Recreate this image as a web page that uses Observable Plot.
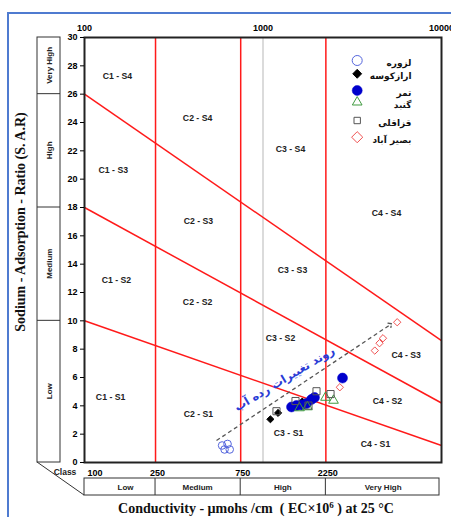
<!DOCTYPE html>
<html><head><meta charset="utf-8">
<script src="https://cdn.jsdelivr.net/npm/d3@7"></script>
<script src="https://cdn.jsdelivr.net/npm/@observablehq/plot@0.6"></script>
<style>html,body{margin:0;padding:0;background:#fff;overflow:hidden}svg{display:block}</style>
</head><body><div id="chart"></div>
<script>
// ---------- data ----------
const classBreaksEC = [250, 750, 2250];
const classBoundsEC = [100, 250, 750, 2250, 10000];
const salinityClassNames = ["Low", "Medium", "High", "Very High"];
const sodiumBoundsSAR = [0, 10, 18, 26, 30];
const sodiumClassNames = ["Low", "Medium", "High", "Very High"];
const boundaryStartEC = 100, boundaryEndEC = 10000;
const boundaryStartSAR = [10, 18, 26];
const boundaryEndSAR = [1.2, 4.2, 8.6];
const topTickLabels = [100, 1000, 10000];
const bottomTickLabels = [250, 750, 2250];
const bottomFirstLabel = [100];
const yTicks = [0, 2, 4, 6, 8, 10, 12, 14, 16, 18, 20, 22, 24, 26, 28, 30];

const regionNames = ["C1 - S4","C2 - S4","C3 - S4","C4 - S4","C1 - S3","C2 - S3","C3 - S3","C4 - S3",
                     "C1 - S2","C2 - S2","C3 - S2","C4 - S2","C1 - S1","C2 - S1","C3 - S1","C4 - S1"];
const regionEC  = [153, 430, 1426, 4920, 145, 435, 1463, 6343, 151, 430, 1253, 4980, 140, 435, 1390, 4267];
const regionSAR = [27.3, 24.3, 22.1, 17.6, 20.6, 17.0, 13.55, 7.6, 12.9, 11.3, 8.8, 4.33, 4.6, 3.39, 2.07, 1.27];

const seriesNames = ["لزوره", "ارازکوسه", "تمر", "گنبد", "قزاقلی", "بصیر آباد"];
const lazvarehEC = [590, 633, 651, 609];
const lazvarehSAR = [1.2, 1.31, 0.92, 0.92];
const arazkoosehEC = [1100, 1215, 1660];
const arazkoosehSAR = [3.05, 3.5, 4.3];
const tamarEC = [1445, 1541, 1643, 1752, 1869, 1943, 2789];
const tamarSAR = [3.92, 4.02, 4.06, 4.16, 4.45, 4.59, 5.96];
const gonbadEC = [1601, 1775, 2240, 2483];
const gonbadSAR = [3.85, 3.92, 4.59, 4.38];
const ghazaghliEC = [1190, 1521, 1798, 1994, 2390];
const ghazaghliSAR = [3.62, 4.34, 4.02, 5.03, 4.83];
const basirabadEC = [2693, 4229, 4495, 4700, 5647];
const basirabadSAR = [5.31, 7.9, 8.42, 8.77, 9.9];

const trendLabel = "روند تغییرات رده آب";
const trendFrom = {ec: 549, sar: 1.55};
const trendTo = {ec: 5180, sar: 9.74};
const trendLabelAt = {ec: 1319, sar: 5.9};

// ---------- build ----------
const seriesEC = [lazvarehEC, arazkoosehEC, tamarEC, gonbadEC, ghazaghliEC, basirabadEC];
const seriesSAR = [lazvarehSAR, arazkoosehSAR, tamarSAR, gonbadSAR, ghazaghliSAR, basirabadSAR];
const styles = [
  {symbol: "circle", r: 3.8, fill: "none", stroke: "#5566dd", strokeWidth: 1, lr: 5},
  {symbol: "diamond2", r: 3.2, fill: "#000", stroke: "#000", strokeWidth: 1, lr: 4},
  {symbol: "circle", r: 5, fill: "#0000cc", stroke: "#0000cc", strokeWidth: 0.5, lr: 5},
  {symbol: "triangle", r: 3.6, fill: "none", stroke: "#3f9a3f", strokeWidth: 1, lr: 3.6},
  {symbol: "square", r: 4, fill: "none", stroke: "#555", strokeWidth: 1, lr: 3.6},
  {symbol: "diamond2", r: 3.3, fill: "none", stroke: "#f05050", strokeWidth: 1, lr: 5}
];
const legendDy = [23, 36.3, 53, 64.7, 83, 99.7];

const rows = seriesNames.map((name, i) => seriesEC[i].map((ec, j) => ({series: name, ec, sar: seriesSAR[i][j]})));
const boundaries = boundaryStartSAR.map((s, i) => ({x1: boundaryStartEC, x2: boundaryEndEC, y1: s, y2: boundaryEndSAR[i]}));
const regions = regionNames.map((n, i) => ({name: n, ec: regionEC[i], sar: regionSAR[i]}));

const bold = "bold";
const marks = [
  Plot.ruleX([1000], {stroke: "#c8c8c8", strokeWidth: 1.3}),
  Plot.ruleX(classBreaksEC, {stroke: "#ff1a1a", strokeWidth: 1.5}),
  Plot.link(boundaries, {x1: "x1", x2: "x2", y1: "y1", y2: "y2", stroke: "#ff1a1a", strokeWidth: 1.5}),
  Plot.frame({stroke: "#222", strokeWidth: 2}),
  Plot.axisY({ticks: yTicks, tickSize: 4, tickPadding: 3, fontWeight: bold, fontSize: 9, label: null, tickFormat: d => String(d)}),
  Plot.text(topTickLabels, {x: d => d, y: 30, dy: -9, text: d => String(d), fontWeight: bold, fontSize: 9}),
  Plot.text(bottomTickLabels, {x: d => d, y: 0, dy: 11, text: d => String(d), fontWeight: bold, fontSize: 9, dx: 2}),
  Plot.text(bottomFirstLabel, {x: d => d, y: 0, dy: 11, dx: 3, textAnchor: "start", text: d => String(d), fontWeight: bold, fontSize: 9}),
  Plot.text(regions, {x: "ec", y: "sar", text: "name", fontWeight: bold, fontSize: 8.7, fill: "#222"}),
  Plot.link([trendFrom], {x1: d => d.ec, y1: d => d.sar, x2: () => trendTo.ec, y2: () => trendTo.sar,
    stroke: "#555", strokeWidth: 1.3, strokeDasharray: "4,3", markerEnd: "arrow"}),
  Plot.text([trendLabel], {x: () => trendLabelAt.ec, y: () => trendLabelAt.sar, text: d => d, rotate: -31,
    fill: "#2a3cd6", fontWeight: bold, fontSize: 11.5, fontFamily: "DejaVu Sans, sans-serif"})
];
rows.forEach((data, i) => {
  const s = styles[i];
  marks.push(Plot.dot(data, {x: "ec", y: "sar", symbol: () => s.symbol, r: s.r, fill: s.fill, stroke: s.stroke, strokeWidth: s.strokeWidth}));
});
seriesNames.forEach((name, i) => {
  const s = styles[i];
  marks.push(Plot.dot([name], {frameAnchor: "top-left", dx: 272.7, dy: legendDy[i], symbol: () => s.symbol, r: s.lr, fill: s.fill, stroke: s.stroke, strokeWidth: s.strokeWidth}));
  marks.push(Plot.text([name], {frameAnchor: "top-left", dx: 327, dy: legendDy[i] - 1, text: d => d, textAnchor: "end",
    fontWeight: bold, fontSize: 9, fill: "#111", fontFamily: "DejaVu Sans, sans-serif"}));
});

const chart = Plot.plot({
  width: 451, height: 517,
  marginLeft: 84, marginRight: 10, marginTop: 37, marginBottom: 55,
  x: {type: "log", domain: [100, 10000], axis: null},
  y: {domain: [0, 30]},
  style: {fontFamily: "Liberation Sans, Arial, sans-serif", background: "white", overflow: "hidden"},
  symbol: {type: "identity"},
  marks
});
document.getElementById("chart").appendChild(chart);

// ---------- decorations using the plot's scales ----------
const X = v => chart.scale("x").apply(v);
const Y = v => chart.scale("y").apply(v);
const svg = d3.select(chart);
const g = svg.append("g").attr("fill", "none").attr("stroke", "#333").attr("stroke-width", 1);
const bx0 = 37, bx1 = 60;
g.append("rect").attr("x", bx0).attr("y", Y(30)).attr("width", bx1 - bx0).attr("height", Y(0) - Y(30));
sodiumBoundsSAR.slice(1, -1).forEach(v => g.append("line").attr("x1", bx0).attr("x2", bx1).attr("y1", Y(v)).attr("y2", Y(v)));
const by0 = Y(0) + 16, by1 = Y(0) + 33;
g.append("rect").attr("x", X(100)).attr("y", by0).attr("width", X(10000) - X(100) - 2).attr("height", by1 - by0);
classBreaksEC.forEach(v => g.append("line").attr("x1", X(v)).attr("x2", X(v)).attr("y1", by0).attr("y2", by1));
g.append("line").attr("x1", bx0).attr("y1", Y(0)).attr("x2", X(100)).attr("y2", by1);

const tg = svg.append("g").attr("font-family", "Liberation Sans, Arial, sans-serif").attr("font-weight", "bold").attr("fill", "#222");
sodiumClassNames.forEach((n, i) => {
  const cy = (Y(sodiumBoundsSAR[i]) + Y(sodiumBoundsSAR[i + 1])) / 2;
  tg.append("text").attr("transform", `translate(${(bx0 + bx1) / 2 + 3},${cy}) rotate(-90)`)
    .attr("text-anchor", "middle").attr("font-size", 8).text(n);
});
salinityClassNames.forEach((n, i) => {
  const cx = (X(classBoundsEC[i]) + X(classBoundsEC[i + 1])) / 2;
  tg.append("text").attr("x", cx + (i === 0 ? 6 : 0)).attr("y", (by0 + by1) / 2 + 3).attr("text-anchor", "middle").attr("font-size", 8).text(n);
});
tg.append("text").attr("x", 65).attr("y", Y(0) + 13).attr("text-anchor", "middle").attr("font-size", 8.5).text("Class");

svg.append("text").attr("transform", `translate(25,222) rotate(-90)`).attr("text-anchor", "middle")
  .attr("font-family", "Liberation Serif, Times New Roman, serif").attr("font-weight", "bold").attr("font-size", 14).attr("fill", "#111")
  .text("Sodium - Adsorption - Ratio (S. A.R)");
const bt = svg.append("text").attr("x", 256).attr("y", 513).attr("text-anchor", "middle")
  .attr("font-family", "Liberation Serif, Times New Roman, serif").attr("font-weight", "bold").attr("font-size", 14).attr("fill", "#111");
bt.append("tspan").text("Conductivity - µmohs /cm  ( EC×10");
bt.append("tspan").attr("font-size", 9).attr("dy", -5).text("6");
bt.append("tspan").attr("dy", 5).text(" ) at 25 °C");

svg.append("path").attr("d", "M8,517V13H451").attr("fill", "none").attr("stroke", "#4f7bd0").attr("stroke-width", 2);
</script></body></html>
